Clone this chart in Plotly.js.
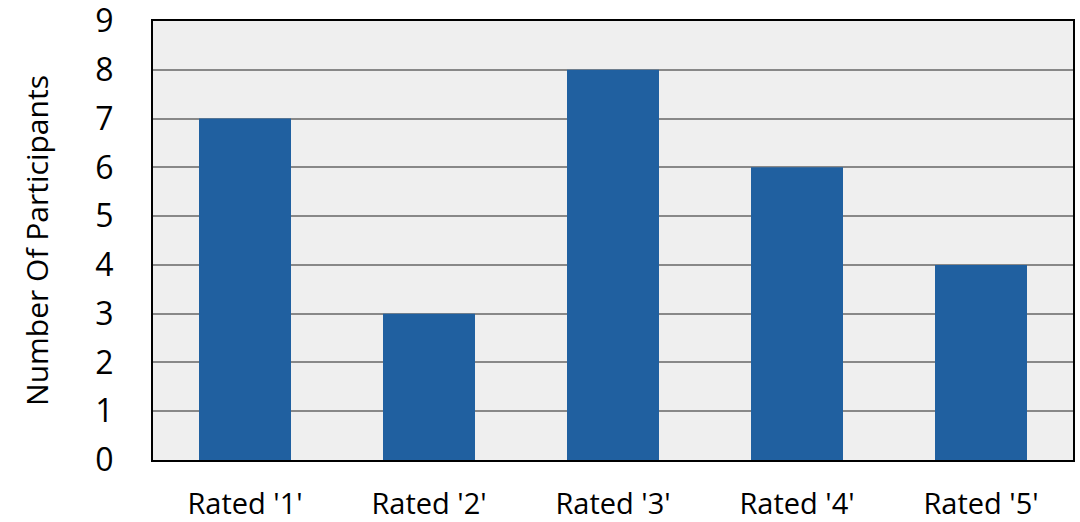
<!DOCTYPE html>
<html><head><meta charset="utf-8">
<script src="https://cdn.plot.ly/plotly-3.0.1.min.js"></script>
<style>html,body{margin:0;padding:0;background:#fff;}</style>
</head><body>
<div id="chart" style="width:1080px;height:522px;"></div>
<script>
const categories = ["Rated '1'", "Rated '2'", "Rated '3'", "Rated '4'", "Rated '5'"];
const participants = [7, 3, 8, 6, 4];
const yTickValues = [0, 1, 2, 3, 4, 5, 6, 7, 8, 9];

const trace = {
  type: 'bar',
  x: categories,
  y: participants,
  marker: {color: '#2060a0'},
  hoverinfo: 'x+y'
};
const layout = {
  width: 1080, height: 522,
  margin: {l: 153, r: 7, t: 21, b: 62},
  paper_bgcolor: '#ffffff',
  plot_bgcolor: '#efefef',
  bargap: 0.5,
  showlegend: false,
  font: {family: '"Open Sans", "Segoe UI", sans-serif', color: '#000', size: 30},
  xaxis: {
    showgrid: false, showline: true, linecolor: '#000', linewidth: 2, mirror: true,
    ticks: '', tickfont: {size: 29}, ticklabelstandoff: 17
  },
  yaxis: {
    range: [0, 9], tickvals: yTickValues, showgrid: true, gridcolor: '#888888', gridwidth: 2,
    showline: true, linecolor: '#000', linewidth: 2, mirror: true, zeroline: false,
    ticks: '', tickfont: {size: 32}, ticklabelstandoff: 31, ticklabeloverflow: 'allow',
    title: {text: 'Number Of Participants', font: {size: 30}, standoff: 38}
  }
};
Plotly.newPlot('chart', [trace], layout, {displayModeBar: false, staticPlot: true});
</script>
</body></html>
